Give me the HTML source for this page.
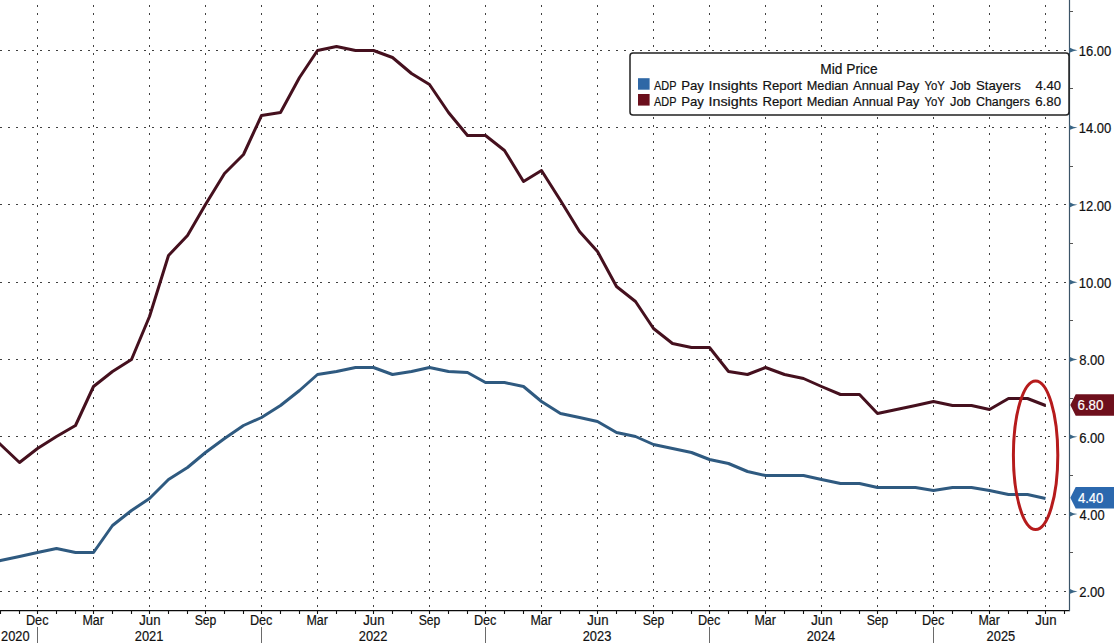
<!DOCTYPE html><html><head><meta charset="utf-8"><style>html,body{margin:0;padding:0;background:#fff;}svg{display:block;}text{font-family:"Liberation Sans",sans-serif;}</style></head><body>
<svg width="1114" height="643" viewBox="0 0 1114 643">
<rect width="1114" height="643" fill="#fff"/>
<line x1="0" y1="591.5" x2="1066" y2="591.5" stroke="#404040" stroke-width="1" stroke-dasharray="2 6"/>
<line x1="0" y1="514.5" x2="1066" y2="514.5" stroke="#404040" stroke-width="1" stroke-dasharray="2 6"/>
<line x1="0" y1="436.5" x2="1066" y2="436.5" stroke="#404040" stroke-width="1" stroke-dasharray="2 6"/>
<line x1="0" y1="359.5" x2="1066" y2="359.5" stroke="#404040" stroke-width="1" stroke-dasharray="2 6"/>
<line x1="0" y1="282.5" x2="1066" y2="282.5" stroke="#404040" stroke-width="1" stroke-dasharray="2 6"/>
<line x1="0" y1="204.5" x2="1066" y2="204.5" stroke="#404040" stroke-width="1" stroke-dasharray="2 6"/>
<line x1="0" y1="127.5" x2="1066" y2="127.5" stroke="#404040" stroke-width="1" stroke-dasharray="2 6"/>
<line x1="0" y1="50.5" x2="1066" y2="50.5" stroke="#404040" stroke-width="1" stroke-dasharray="2 6"/>
<line x1="37.5" y1="0" x2="37.5" y2="610" stroke="#404040" stroke-width="1" stroke-dasharray="2 6" stroke-dashoffset="3"/>
<line x1="93.5" y1="0" x2="93.5" y2="610" stroke="#404040" stroke-width="1" stroke-dasharray="2 6" stroke-dashoffset="3"/>
<line x1="149.5" y1="0" x2="149.5" y2="610" stroke="#404040" stroke-width="1" stroke-dasharray="2 6" stroke-dashoffset="3"/>
<line x1="205.5" y1="0" x2="205.5" y2="610" stroke="#404040" stroke-width="1" stroke-dasharray="2 6" stroke-dashoffset="3"/>
<line x1="261.5" y1="0" x2="261.5" y2="610" stroke="#404040" stroke-width="1" stroke-dasharray="2 6" stroke-dashoffset="3"/>
<line x1="317.5" y1="0" x2="317.5" y2="610" stroke="#404040" stroke-width="1" stroke-dasharray="2 6" stroke-dashoffset="3"/>
<line x1="373.5" y1="0" x2="373.5" y2="610" stroke="#404040" stroke-width="1" stroke-dasharray="2 6" stroke-dashoffset="3"/>
<line x1="429.5" y1="0" x2="429.5" y2="610" stroke="#404040" stroke-width="1" stroke-dasharray="2 6" stroke-dashoffset="3"/>
<line x1="485.5" y1="0" x2="485.5" y2="610" stroke="#404040" stroke-width="1" stroke-dasharray="2 6" stroke-dashoffset="3"/>
<line x1="541.5" y1="0" x2="541.5" y2="610" stroke="#404040" stroke-width="1" stroke-dasharray="2 6" stroke-dashoffset="3"/>
<line x1="597.5" y1="0" x2="597.5" y2="610" stroke="#404040" stroke-width="1" stroke-dasharray="2 6" stroke-dashoffset="3"/>
<line x1="653.5" y1="0" x2="653.5" y2="610" stroke="#404040" stroke-width="1" stroke-dasharray="2 6" stroke-dashoffset="3"/>
<line x1="709.5" y1="0" x2="709.5" y2="610" stroke="#404040" stroke-width="1" stroke-dasharray="2 6" stroke-dashoffset="3"/>
<line x1="765.5" y1="0" x2="765.5" y2="610" stroke="#404040" stroke-width="1" stroke-dasharray="2 6" stroke-dashoffset="3"/>
<line x1="821.5" y1="0" x2="821.5" y2="610" stroke="#404040" stroke-width="1" stroke-dasharray="2 6" stroke-dashoffset="3"/>
<line x1="877.5" y1="0" x2="877.5" y2="610" stroke="#404040" stroke-width="1" stroke-dasharray="2 6" stroke-dashoffset="3"/>
<line x1="933.5" y1="0" x2="933.5" y2="610" stroke="#404040" stroke-width="1" stroke-dasharray="2 6" stroke-dashoffset="3"/>
<line x1="989.5" y1="0" x2="989.5" y2="610" stroke="#404040" stroke-width="1" stroke-dasharray="2 6" stroke-dashoffset="3"/>
<line x1="1045.5" y1="0" x2="1045.5" y2="610" stroke="#404040" stroke-width="1" stroke-dasharray="2 6" stroke-dashoffset="3"/>
<line x1="0" y1="610.5" x2="1070" y2="610.5" stroke="#0a0a0a" stroke-width="1.25"/>
<line x1="0.5" y1="610" x2="0.5" y2="614" stroke="#111" stroke-width="1.1"/>
<line x1="19.5" y1="610" x2="19.5" y2="614" stroke="#111" stroke-width="1.1"/>
<line x1="37.5" y1="610" x2="37.5" y2="614" stroke="#111" stroke-width="1.1"/>
<line x1="56.5" y1="610" x2="56.5" y2="614" stroke="#111" stroke-width="1.1"/>
<line x1="75.5" y1="610" x2="75.5" y2="614" stroke="#111" stroke-width="1.1"/>
<line x1="93.5" y1="610" x2="93.5" y2="614" stroke="#111" stroke-width="1.1"/>
<line x1="112.5" y1="610" x2="112.5" y2="614" stroke="#111" stroke-width="1.1"/>
<line x1="131.5" y1="610" x2="131.5" y2="614" stroke="#111" stroke-width="1.1"/>
<line x1="149.5" y1="610" x2="149.5" y2="614" stroke="#111" stroke-width="1.1"/>
<line x1="168.5" y1="610" x2="168.5" y2="614" stroke="#111" stroke-width="1.1"/>
<line x1="187.5" y1="610" x2="187.5" y2="614" stroke="#111" stroke-width="1.1"/>
<line x1="205.5" y1="610" x2="205.5" y2="614" stroke="#111" stroke-width="1.1"/>
<line x1="224.5" y1="610" x2="224.5" y2="614" stroke="#111" stroke-width="1.1"/>
<line x1="243.5" y1="610" x2="243.5" y2="614" stroke="#111" stroke-width="1.1"/>
<line x1="261.5" y1="610" x2="261.5" y2="614" stroke="#111" stroke-width="1.1"/>
<line x1="280.5" y1="610" x2="280.5" y2="614" stroke="#111" stroke-width="1.1"/>
<line x1="299.5" y1="610" x2="299.5" y2="614" stroke="#111" stroke-width="1.1"/>
<line x1="317.5" y1="610" x2="317.5" y2="614" stroke="#111" stroke-width="1.1"/>
<line x1="336.5" y1="610" x2="336.5" y2="614" stroke="#111" stroke-width="1.1"/>
<line x1="355.5" y1="610" x2="355.5" y2="614" stroke="#111" stroke-width="1.1"/>
<line x1="373.5" y1="610" x2="373.5" y2="614" stroke="#111" stroke-width="1.1"/>
<line x1="392.5" y1="610" x2="392.5" y2="614" stroke="#111" stroke-width="1.1"/>
<line x1="411.5" y1="610" x2="411.5" y2="614" stroke="#111" stroke-width="1.1"/>
<line x1="429.5" y1="610" x2="429.5" y2="614" stroke="#111" stroke-width="1.1"/>
<line x1="448.5" y1="610" x2="448.5" y2="614" stroke="#111" stroke-width="1.1"/>
<line x1="467.5" y1="610" x2="467.5" y2="614" stroke="#111" stroke-width="1.1"/>
<line x1="485.5" y1="610" x2="485.5" y2="614" stroke="#111" stroke-width="1.1"/>
<line x1="504.5" y1="610" x2="504.5" y2="614" stroke="#111" stroke-width="1.1"/>
<line x1="523.5" y1="610" x2="523.5" y2="614" stroke="#111" stroke-width="1.1"/>
<line x1="541.5" y1="610" x2="541.5" y2="614" stroke="#111" stroke-width="1.1"/>
<line x1="560.5" y1="610" x2="560.5" y2="614" stroke="#111" stroke-width="1.1"/>
<line x1="579.5" y1="610" x2="579.5" y2="614" stroke="#111" stroke-width="1.1"/>
<line x1="597.5" y1="610" x2="597.5" y2="614" stroke="#111" stroke-width="1.1"/>
<line x1="616.5" y1="610" x2="616.5" y2="614" stroke="#111" stroke-width="1.1"/>
<line x1="635.5" y1="610" x2="635.5" y2="614" stroke="#111" stroke-width="1.1"/>
<line x1="653.5" y1="610" x2="653.5" y2="614" stroke="#111" stroke-width="1.1"/>
<line x1="672.5" y1="610" x2="672.5" y2="614" stroke="#111" stroke-width="1.1"/>
<line x1="691.5" y1="610" x2="691.5" y2="614" stroke="#111" stroke-width="1.1"/>
<line x1="709.5" y1="610" x2="709.5" y2="614" stroke="#111" stroke-width="1.1"/>
<line x1="728.5" y1="610" x2="728.5" y2="614" stroke="#111" stroke-width="1.1"/>
<line x1="747.5" y1="610" x2="747.5" y2="614" stroke="#111" stroke-width="1.1"/>
<line x1="765.5" y1="610" x2="765.5" y2="614" stroke="#111" stroke-width="1.1"/>
<line x1="784.5" y1="610" x2="784.5" y2="614" stroke="#111" stroke-width="1.1"/>
<line x1="803.5" y1="610" x2="803.5" y2="614" stroke="#111" stroke-width="1.1"/>
<line x1="821.5" y1="610" x2="821.5" y2="614" stroke="#111" stroke-width="1.1"/>
<line x1="840.5" y1="610" x2="840.5" y2="614" stroke="#111" stroke-width="1.1"/>
<line x1="859.5" y1="610" x2="859.5" y2="614" stroke="#111" stroke-width="1.1"/>
<line x1="877.5" y1="610" x2="877.5" y2="614" stroke="#111" stroke-width="1.1"/>
<line x1="896.5" y1="610" x2="896.5" y2="614" stroke="#111" stroke-width="1.1"/>
<line x1="915.5" y1="610" x2="915.5" y2="614" stroke="#111" stroke-width="1.1"/>
<line x1="933.5" y1="610" x2="933.5" y2="614" stroke="#111" stroke-width="1.1"/>
<line x1="952.5" y1="610" x2="952.5" y2="614" stroke="#111" stroke-width="1.1"/>
<line x1="971.5" y1="610" x2="971.5" y2="614" stroke="#111" stroke-width="1.1"/>
<line x1="989.5" y1="610" x2="989.5" y2="614" stroke="#111" stroke-width="1.1"/>
<line x1="1008.5" y1="610" x2="1008.5" y2="614" stroke="#111" stroke-width="1.1"/>
<line x1="1027.5" y1="610" x2="1027.5" y2="614" stroke="#111" stroke-width="1.1"/>
<line x1="1045.5" y1="610" x2="1045.5" y2="614" stroke="#111" stroke-width="1.1"/>
<line x1="1064.5" y1="610" x2="1064.5" y2="614" stroke="#111" stroke-width="1.1"/>
<text x="25.91" y="625.00" font-size="14" fill="#111" stroke="#111" stroke-width="0.2" textLength="22.58" lengthAdjust="spacingAndGlyphs">Dec</text>
<text x="82.43" y="625.00" font-size="14" fill="#111" stroke="#111" stroke-width="0.2" textLength="21.43" lengthAdjust="spacingAndGlyphs">Mar</text>
<text x="139.24" y="625.00" font-size="14" fill="#111" stroke="#111" stroke-width="0.2" textLength="21.26" lengthAdjust="spacingAndGlyphs">Jun</text>
<text x="194.69" y="625.00" font-size="14" fill="#111" stroke="#111" stroke-width="0.2" textLength="21.66" lengthAdjust="spacingAndGlyphs">Sep</text>
<text x="249.90" y="625.00" font-size="14" fill="#111" stroke="#111" stroke-width="0.2" textLength="22.58" lengthAdjust="spacingAndGlyphs">Dec</text>
<text x="306.42" y="625.00" font-size="14" fill="#111" stroke="#111" stroke-width="0.2" textLength="21.43" lengthAdjust="spacingAndGlyphs">Mar</text>
<text x="363.23" y="625.00" font-size="14" fill="#111" stroke="#111" stroke-width="0.2" textLength="21.26" lengthAdjust="spacingAndGlyphs">Jun</text>
<text x="418.68" y="625.00" font-size="14" fill="#111" stroke="#111" stroke-width="0.2" textLength="21.66" lengthAdjust="spacingAndGlyphs">Sep</text>
<text x="473.89" y="625.00" font-size="14" fill="#111" stroke="#111" stroke-width="0.2" textLength="22.58" lengthAdjust="spacingAndGlyphs">Dec</text>
<text x="530.41" y="625.00" font-size="14" fill="#111" stroke="#111" stroke-width="0.2" textLength="21.43" lengthAdjust="spacingAndGlyphs">Mar</text>
<text x="587.22" y="625.00" font-size="14" fill="#111" stroke="#111" stroke-width="0.2" textLength="21.26" lengthAdjust="spacingAndGlyphs">Jun</text>
<text x="642.68" y="625.00" font-size="14" fill="#111" stroke="#111" stroke-width="0.2" textLength="21.66" lengthAdjust="spacingAndGlyphs">Sep</text>
<text x="697.88" y="625.00" font-size="14" fill="#111" stroke="#111" stroke-width="0.2" textLength="22.58" lengthAdjust="spacingAndGlyphs">Dec</text>
<text x="754.40" y="625.00" font-size="14" fill="#111" stroke="#111" stroke-width="0.2" textLength="21.43" lengthAdjust="spacingAndGlyphs">Mar</text>
<text x="811.22" y="625.00" font-size="14" fill="#111" stroke="#111" stroke-width="0.2" textLength="21.26" lengthAdjust="spacingAndGlyphs">Jun</text>
<text x="866.67" y="625.00" font-size="14" fill="#111" stroke="#111" stroke-width="0.2" textLength="21.66" lengthAdjust="spacingAndGlyphs">Sep</text>
<text x="921.88" y="625.00" font-size="14" fill="#111" stroke="#111" stroke-width="0.2" textLength="22.58" lengthAdjust="spacingAndGlyphs">Dec</text>
<text x="978.40" y="625.00" font-size="14" fill="#111" stroke="#111" stroke-width="0.2" textLength="21.43" lengthAdjust="spacingAndGlyphs">Mar</text>
<text x="1035.21" y="625.00" font-size="14" fill="#111" stroke="#111" stroke-width="0.2" textLength="21.26" lengthAdjust="spacingAndGlyphs">Jun</text>
<text x="1.05" y="641.00" font-size="14" fill="#111" stroke="#111" stroke-width="0.2" textLength="28.55" lengthAdjust="spacingAndGlyphs">2020</text>
<text x="134.75" y="641.00" font-size="14" fill="#111" stroke="#111" stroke-width="0.2" textLength="28.68" lengthAdjust="spacingAndGlyphs">2021</text>
<text x="358.74" y="641.00" font-size="14" fill="#111" stroke="#111" stroke-width="0.2" textLength="28.70" lengthAdjust="spacingAndGlyphs">2022</text>
<text x="582.73" y="641.00" font-size="14" fill="#111" stroke="#111" stroke-width="0.2" textLength="28.61" lengthAdjust="spacingAndGlyphs">2023</text>
<text x="806.73" y="641.00" font-size="14" fill="#111" stroke="#111" stroke-width="0.2" textLength="28.42" lengthAdjust="spacingAndGlyphs">2024</text>
<text x="986.60" y="641.00" font-size="14" fill="#111" stroke="#111" stroke-width="0.2" textLength="28.59" lengthAdjust="spacingAndGlyphs">2025</text>
<line x1="37.5" y1="627" x2="37.5" y2="643" stroke="#6a6a6a" stroke-width="1"/>
<line x1="261.5" y1="627" x2="261.5" y2="643" stroke="#6a6a6a" stroke-width="1"/>
<line x1="485.5" y1="627" x2="485.5" y2="643" stroke="#6a6a6a" stroke-width="1"/>
<line x1="709.5" y1="627" x2="709.5" y2="643" stroke="#6a6a6a" stroke-width="1"/>
<line x1="933.5" y1="627" x2="933.5" y2="643" stroke="#6a6a6a" stroke-width="1"/>
<line x1="1069.5" y1="0" x2="1069.5" y2="611" stroke="#3b5468" stroke-width="1.2"/>
<line x1="1069.5" y1="552.5" x2="1073" y2="552.5" stroke="#555" stroke-width="1"/>
<line x1="1069.5" y1="475.5" x2="1073" y2="475.5" stroke="#555" stroke-width="1"/>
<line x1="1069.5" y1="398.5" x2="1073" y2="398.5" stroke="#555" stroke-width="1"/>
<line x1="1069.5" y1="320.5" x2="1073" y2="320.5" stroke="#555" stroke-width="1"/>
<line x1="1069.5" y1="243.5" x2="1073" y2="243.5" stroke="#555" stroke-width="1"/>
<line x1="1069.5" y1="166.5" x2="1073" y2="166.5" stroke="#555" stroke-width="1"/>
<line x1="1069.5" y1="88.5" x2="1073" y2="88.5" stroke="#555" stroke-width="1"/>
<line x1="1069.5" y1="11.5" x2="1073" y2="11.5" stroke="#555" stroke-width="1"/>
<path d="M1069.5 588.80 Q1073 590.80 1077.5 591.40 Q1073 592.00 1069.5 594.00 Z" fill="#3a6585"/>
<text x="1079.14" y="597.00" font-size="14" fill="#111" stroke="#111" stroke-width="0.2" textLength="25.47" lengthAdjust="spacingAndGlyphs">2.00</text>
<path d="M1069.5 511.48 Q1073 513.48 1077.5 514.08 Q1073 514.68 1069.5 516.68 Z" fill="#3a6585"/>
<text x="1079.50" y="520.00" font-size="14" fill="#111" stroke="#111" stroke-width="0.2" textLength="25.10" lengthAdjust="spacingAndGlyphs">4.00</text>
<path d="M1069.5 434.17 Q1073 436.17 1077.5 436.77 Q1073 437.37 1069.5 439.37 Z" fill="#3a6585"/>
<text x="1079.14" y="443.00" font-size="14" fill="#111" stroke="#111" stroke-width="0.2" textLength="25.48" lengthAdjust="spacingAndGlyphs">6.00</text>
<path d="M1069.5 356.85 Q1073 358.85 1077.5 359.45 Q1073 360.05 1069.5 362.05 Z" fill="#3a6585"/>
<text x="1079.23" y="365.00" font-size="14" fill="#111" stroke="#111" stroke-width="0.2" textLength="25.38" lengthAdjust="spacingAndGlyphs">8.00</text>
<path d="M1069.5 279.54 Q1073 281.54 1077.5 282.14 Q1073 282.74 1069.5 284.74 Z" fill="#3a6585"/>
<text x="1078.81" y="288.00" font-size="14" fill="#111" stroke="#111" stroke-width="0.2" textLength="32.50" lengthAdjust="spacingAndGlyphs">10.00</text>
<path d="M1069.5 202.23 Q1073 204.23 1077.5 204.83 Q1073 205.43 1069.5 207.43 Z" fill="#3a6585"/>
<text x="1078.81" y="211.00" font-size="14" fill="#111" stroke="#111" stroke-width="0.2" textLength="32.50" lengthAdjust="spacingAndGlyphs">12.00</text>
<path d="M1069.5 124.91 Q1073 126.91 1077.5 127.51 Q1073 128.11 1069.5 130.11 Z" fill="#3a6585"/>
<text x="1078.81" y="133.00" font-size="14" fill="#111" stroke="#111" stroke-width="0.2" textLength="32.50" lengthAdjust="spacingAndGlyphs">14.00</text>
<path d="M1069.5 47.60 Q1073 49.60 1077.5 50.20 Q1073 50.80 1069.5 52.80 Z" fill="#3a6585"/>
<text x="1078.81" y="56.00" font-size="14" fill="#111" stroke="#111" stroke-width="0.2" textLength="32.50" lengthAdjust="spacingAndGlyphs">16.00</text>
<rect x="630" y="53" width="439" height="62" rx="3" ry="3" fill="#fff" stroke="#222" stroke-width="1.5"/>
<text x="820.37" y="74.00" font-size="14" fill="#111" stroke="#111" stroke-width="0.2" textLength="57.24" lengthAdjust="spacingAndGlyphs">Mid Price</text>
<rect x="638" y="78.2" width="11.6" height="11.5" fill="#2f68a6"/>
<rect x="638" y="94" width="11.6" height="11.6" fill="#6b0f1c"/>
<text x="654.08" y="90.00" font-size="13.2" fill="#111" stroke="#111" stroke-width="0.2" textLength="22.40" lengthAdjust="spacingAndGlyphs">ADP</text>
<text x="681.22" y="90.00" font-size="13.2" fill="#111" stroke="#111" stroke-width="0.2" textLength="22.71" lengthAdjust="spacingAndGlyphs">Pay</text>
<text x="708.48" y="90.00" font-size="13.2" fill="#111" stroke="#111" stroke-width="0.2" textLength="49.23" lengthAdjust="spacingAndGlyphs">Insights</text>
<text x="762.52" y="90.00" font-size="13.2" fill="#111" stroke="#111" stroke-width="0.2" textLength="39.48" lengthAdjust="spacingAndGlyphs">Report</text>
<text x="806.76" y="90.00" font-size="13.2" fill="#111" stroke="#111" stroke-width="0.2" textLength="41.67" lengthAdjust="spacingAndGlyphs">Median</text>
<text x="853.07" y="90.00" font-size="13.2" fill="#111" stroke="#111" stroke-width="0.2" textLength="40.19" lengthAdjust="spacingAndGlyphs">Annual</text>
<text x="896.72" y="90.00" font-size="13.2" fill="#111" stroke="#111" stroke-width="0.2" textLength="22.60" lengthAdjust="spacingAndGlyphs">Pay</text>
<text x="924.46" y="90.00" font-size="13.2" fill="#111" stroke="#111" stroke-width="0.2" textLength="20.37" lengthAdjust="spacingAndGlyphs">YoY</text>
<text x="950.00" y="90.00" font-size="13.2" fill="#111" stroke="#111" stroke-width="0.2" textLength="20.74" lengthAdjust="spacingAndGlyphs">Job</text>
<text x="654.08" y="106.00" font-size="13.2" fill="#111" stroke="#111" stroke-width="0.2" textLength="22.40" lengthAdjust="spacingAndGlyphs">ADP</text>
<text x="681.22" y="106.00" font-size="13.2" fill="#111" stroke="#111" stroke-width="0.2" textLength="22.71" lengthAdjust="spacingAndGlyphs">Pay</text>
<text x="708.48" y="106.00" font-size="13.2" fill="#111" stroke="#111" stroke-width="0.2" textLength="49.23" lengthAdjust="spacingAndGlyphs">Insights</text>
<text x="762.52" y="106.00" font-size="13.2" fill="#111" stroke="#111" stroke-width="0.2" textLength="39.48" lengthAdjust="spacingAndGlyphs">Report</text>
<text x="806.76" y="106.00" font-size="13.2" fill="#111" stroke="#111" stroke-width="0.2" textLength="41.67" lengthAdjust="spacingAndGlyphs">Median</text>
<text x="853.07" y="106.00" font-size="13.2" fill="#111" stroke="#111" stroke-width="0.2" textLength="40.19" lengthAdjust="spacingAndGlyphs">Annual</text>
<text x="896.72" y="106.00" font-size="13.2" fill="#111" stroke="#111" stroke-width="0.2" textLength="22.60" lengthAdjust="spacingAndGlyphs">Pay</text>
<text x="924.46" y="106.00" font-size="13.2" fill="#111" stroke="#111" stroke-width="0.2" textLength="20.37" lengthAdjust="spacingAndGlyphs">YoY</text>
<text x="950.00" y="106.00" font-size="13.2" fill="#111" stroke="#111" stroke-width="0.2" textLength="20.74" lengthAdjust="spacingAndGlyphs">Job</text>
<text x="976.00" y="90.00" font-size="13.2" fill="#111" stroke="#111" stroke-width="0.2" textLength="44.78" lengthAdjust="spacingAndGlyphs">Stayers</text>
<text x="975.97" y="106.00" font-size="13.2" fill="#111" stroke="#111" stroke-width="0.2" textLength="53.88" lengthAdjust="spacingAndGlyphs">Changers</text>
<text x="1035.60" y="90.00" font-size="13.2" fill="#111" stroke="#111" stroke-width="0.2" textLength="25.41" lengthAdjust="spacingAndGlyphs">4.40</text>
<text x="1035.23" y="106.00" font-size="13.2" fill="#111" stroke="#111" stroke-width="0.2" textLength="25.79" lengthAdjust="spacingAndGlyphs">6.80</text>
<polyline points="-3.00,561.24 0.50,560.50 19.50,556.50 37.50,552.50 56.50,548.50 75.50,552.50 93.50,552.50 112.50,525.50 131.50,510.50 149.50,498.50 168.50,479.50 187.50,467.50 205.50,452.50 224.50,438.50 243.50,425.50 261.50,417.50 280.50,405.50 299.50,390.50 317.50,374.50 336.50,371.50 355.50,367.50 373.50,367.50 392.50,374.50 411.50,371.50 429.50,367.50 448.50,371.50 467.50,372.50 485.50,382.50 504.50,382.50 523.50,386.50 541.50,401.50 560.50,413.50 579.50,417.50 597.50,421.50 616.50,432.50 635.50,436.50 653.50,444.50 672.50,448.50 691.50,452.50 709.50,459.50 728.50,463.50 747.50,471.50 765.50,475.50 784.50,475.50 803.50,475.50 821.50,479.50 840.50,483.50 859.50,483.50 877.50,487.50 896.50,487.50 915.50,487.50 933.50,490.50 952.50,487.50 971.50,487.50 989.50,490.50 1008.50,494.50 1027.50,494.50 1045.50,498.50" fill="none" stroke="#2f5a80" stroke-width="3" stroke-linejoin="round"/>
<polyline points="-3.00,441.18 0.50,444.50 19.50,462.50 37.50,448.50 56.50,436.50 75.50,425.50 93.50,386.50 112.50,371.50 131.50,359.50 149.50,316.50 168.50,255.50 187.50,235.50 205.50,204.50 224.50,173.50 243.50,154.50 261.50,115.50 280.50,112.50 299.50,77.50 317.50,50.50 336.50,46.50 355.50,50.50 373.50,50.50 392.50,57.50 411.50,73.50 429.50,84.50 448.50,112.50 467.50,135.50 485.50,135.50 504.50,150.50 523.50,181.50 541.50,170.50 560.50,200.50 579.50,231.50 597.50,251.50 616.50,286.50 635.50,301.50 653.50,328.50 672.50,343.50 691.50,347.50 709.50,347.50 728.50,371.50 747.50,374.50 765.50,367.50 784.50,374.50 803.50,378.50 821.50,386.50 840.50,394.50 859.50,394.50 877.50,413.50 896.50,409.50 915.50,405.50 933.50,401.50 952.50,405.50 971.50,405.50 989.50,409.50 1008.50,398.50 1027.50,398.50 1045.50,405.50" fill="none" stroke="#45101e" stroke-width="3" stroke-linejoin="round"/>
<path d="M1070.3 404.90 L1075.7 394.15 L1114 394.15 L1114 415.65 L1075.7 415.65 Z" fill="#6e0f1c"/>
<text x="1077.52" y="410.00" font-size="14" fill="#fff" stroke="#fff" stroke-width="0.2" textLength="25.90" lengthAdjust="spacingAndGlyphs">6.80</text>
<path d="M1070.3 497.85 L1075.7 487.10 L1114 487.10 L1114 508.60 L1075.7 508.60 Z" fill="#2b68ae"/>
<text x="1077.90" y="503.00" font-size="14" fill="#fff" stroke="#fff" stroke-width="0.2" textLength="25.51" lengthAdjust="spacingAndGlyphs">4.40</text>
<ellipse cx="1035.6" cy="455.2" rx="22.2" ry="74.3" fill="none" stroke="#b61b1c" stroke-width="3"/>
</svg></body></html>
